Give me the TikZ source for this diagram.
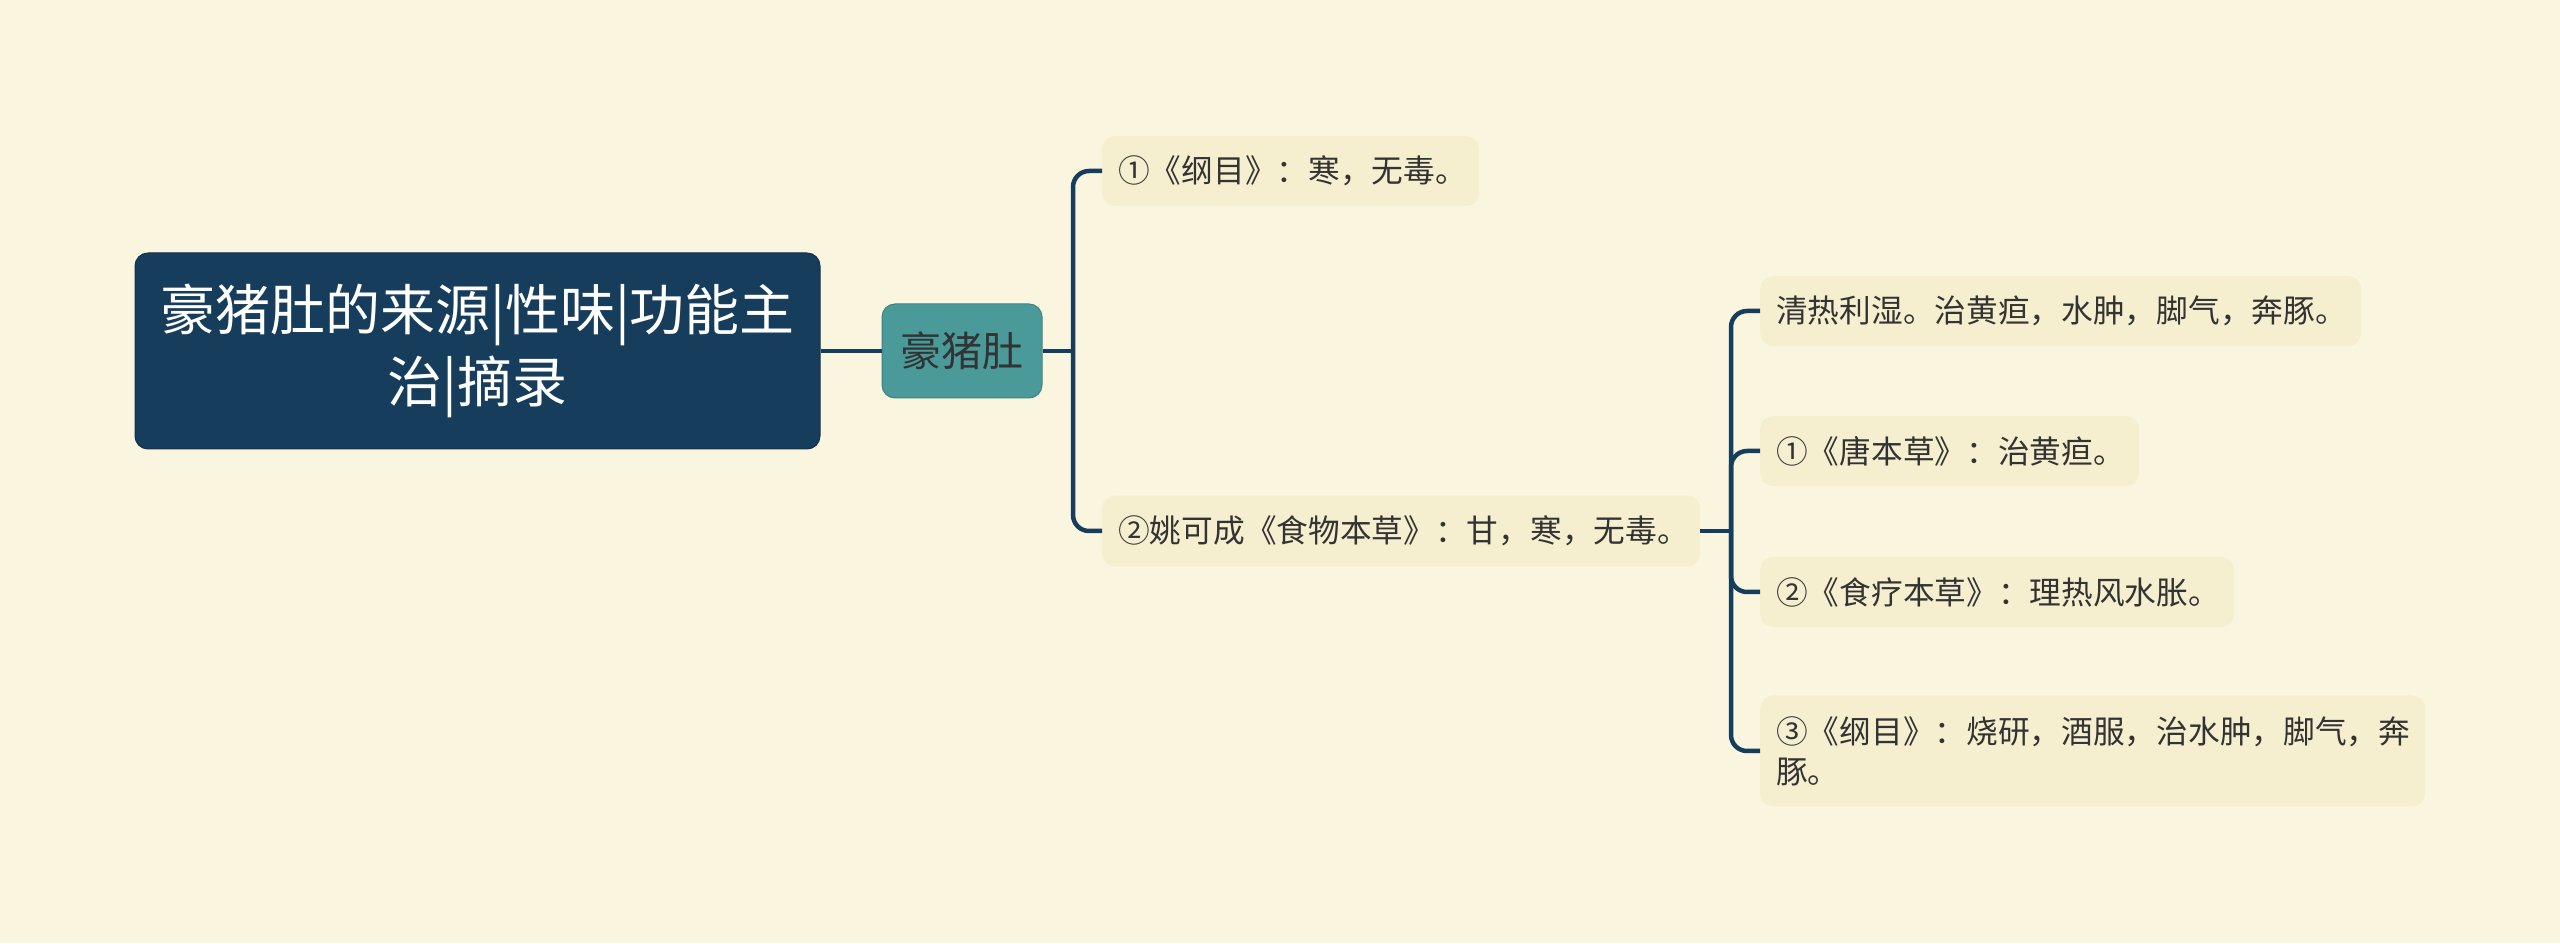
\documentclass[tikz,border=0pt]{standalone}
\usepackage{fontspec}
\setmainfont{Noto Sans CJK SC}
\definecolor{bgc}{HTML}{FAF5DF}
\definecolor{leaf}{HTML}{F5EFCF}
\definecolor{navy}{HTML}{173D5C}
\definecolor{teal}{HTML}{4A9A9A}
\definecolor{txt}{HTML}{333333}
\tikzset{
  conn/.style={draw=navy, line width=4.5pt, rounded corners=16pt},
  leafbox/.style={fill=leaf, rounded corners=13pt, anchor=west, inner xsep=16pt, inner ysep=0pt,
     align=left, text=txt, font=\fontsize{31.7}{40}\selectfont},
}
\begin{document}
\begin{tikzpicture}[x=1pt,y=1pt]
\useasboundingbox[fill=bgc] (0,0) rectangle (2560,943);
\node[fill=navy, draw=navy!80!black, line width=1pt, rounded corners=13pt, minimum width=685pt, minimum height=196pt,
  text=white, align=center, font=\fontsize{55}{72}\selectfont] (root) at (477.5,592) {豪猪肚的来源|性味|功能主\\治|摘录};
\node[fill=teal, draw=teal!85!black, line width=1pt, rounded corners=13pt, minimum width=160pt, minimum height=94pt,
  text=txt, font=\fontsize{41}{48}\selectfont] (hz) at (962,592) {豪猪肚};
\node[leafbox, text width=345pt, minimum height=70pt] (n1) at (1102,772) {①《纲目》：寒，无毒。};
\node[leafbox, text width=566pt, minimum height=71pt] (n2) at (1102,412) {②姚可成《食物本草》：甘，寒，无毒。};
\node[leafbox, text width=569pt, minimum height=70pt] (c1) at (1760,632) {清热利湿。治黄疸，水肿，脚气，奔豚。};
\node[leafbox, text width=347pt, minimum height=70pt] (c2) at (1760,492) {①《唐本草》：治黄疸。};
\node[leafbox, text width=442pt, minimum height=70pt] (c3) at (1760,351) {②《食疗本草》：理热风水胀。};
\node[leafbox, text width=633pt, minimum height=111pt] (c4) at (1760,192) {③《纲目》：烧研，酒服，治水肿，脚气，奔\\豚。};
\coordinate (j1) at (1073,592);
\coordinate (j2) at (1731,412);
\draw[conn] (root.east) -- (hz.west);
\draw[conn] (hz.east) -- (j1);
\draw[conn] (j1) |- (n1.west);
\draw[conn] (j1) |- (n2.west);
\draw[conn] (n2.east) -- (j2);
\draw[conn] (j2) |- (c1.west);
\draw[conn] (j2) |- (c2.west);
\draw[conn] (j2) |- (c3.west);
\draw[conn] (j2) |- (c4.west);
\end{tikzpicture}
\end{document}
